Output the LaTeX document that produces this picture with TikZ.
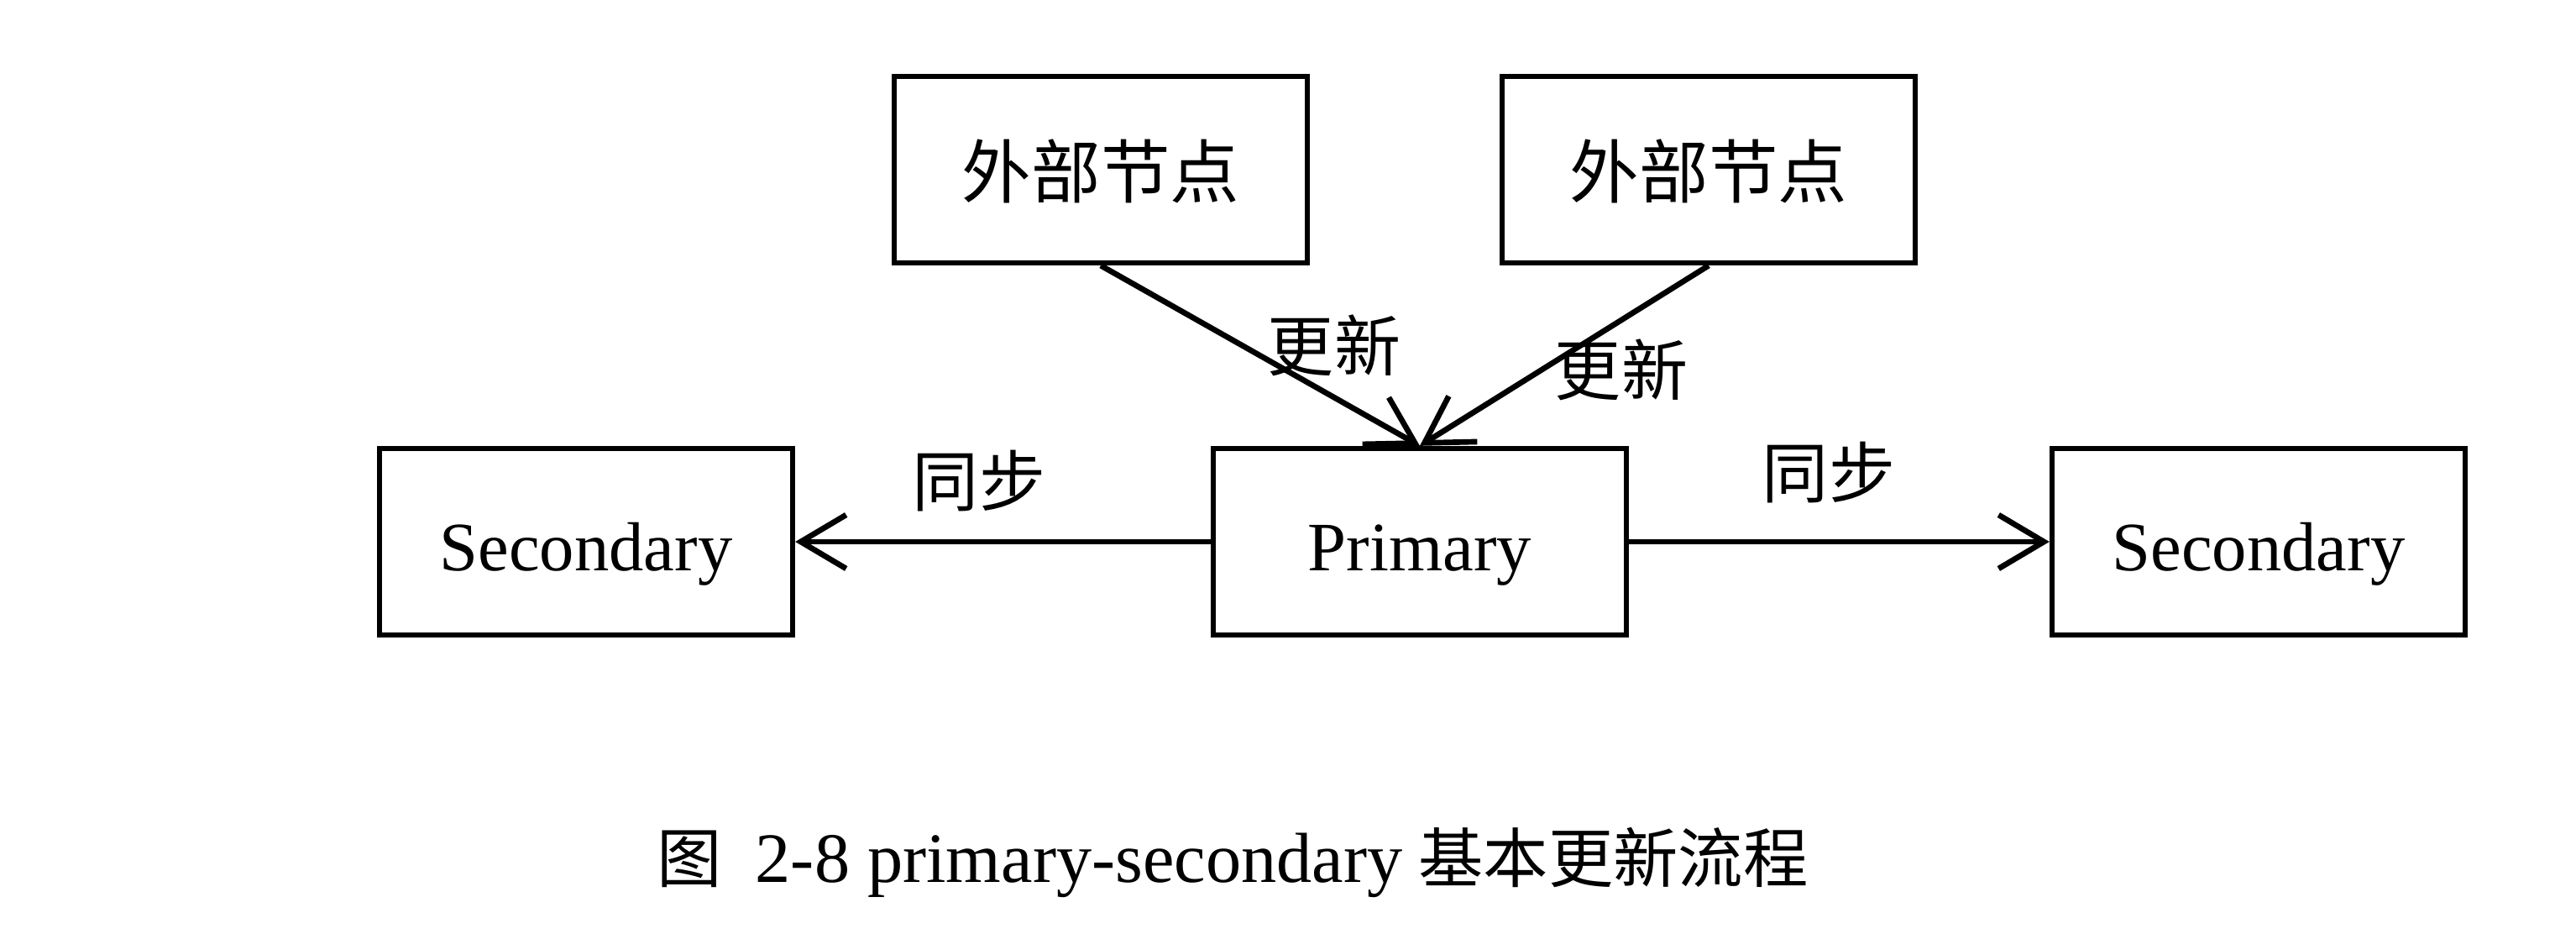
\documentclass[tikz,border=0pt]{standalone}
\usepackage{fontspec}
\setmainfont{Liberation Serif}
\newfontfamily\cjk{Noto Sans CJK SC}
\usetikzlibrary{arrows.meta}

\tikzset{
  box/.style={draw, line width=1.8pt, minimum width=4.92cm, minimum height=2.22cm, inner sep=0pt,
    text height=0.68cm, text depth=0pt, font=\fontsize{23.5}{28}\selectfont},
  conn/.style={line width=1.9pt, -{Straight Barb[length=0.54cm,width=0.64cm]}},
  lbl/.style={font=\fontsize{22.5}{27}\selectfont\cjk}
}

\begin{document}
\begin{tikzpicture}
\useasboundingbox (0,0) rectangle (30.68,-11.12);

% boxes
\node [box] (ext1) at (13.11,-2.02) {\cjk 外部节点};
\node [box] (ext2) at (20.35,-2.02) {\cjk 外部节点};
\node [box] (sec1) at (6.98,-6.45) {Secondary};
\node [box] (pri) at (16.91,-6.45) {Primary};
\node [box] (sec2) at (26.90,-6.45) {Secondary};

% connectors
\draw [conn] (ext1.south) -- (pri.north);
\draw [conn] (ext2.south) -- (pri.north);
\draw [conn] (pri.west) -- (sec1.east);
\draw [conn] (pri.east) -- (sec2.west);

% labels
\node [lbl] (upd1) at (15.89,-4.11) {更新};
\node [lbl] (upd2) at (19.31,-4.40) {更新};
\node [lbl] (syn1) at (11.66,-5.73) {同步};
\node [lbl] (syn2) at (21.78,-5.63) {同步};

% caption
\node [anchor=west] (cap) at (7.70,-10.27) {\fontsize{22}{26}\selectfont{\cjk 图}\hspace{0.4cm}{\fontsize{24}{28}\selectfont 2-8 primary-secondary} {\cjk 基本更新流程}};
\end{tikzpicture}
\end{document}
